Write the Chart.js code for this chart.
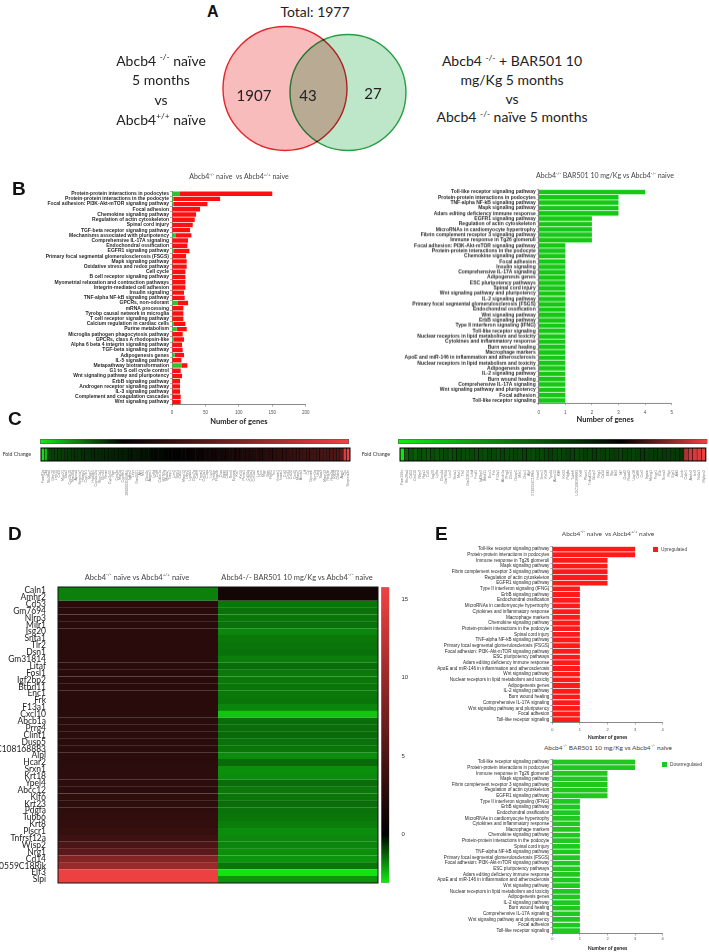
<!DOCTYPE html>
<html lang="en">
<head>
<meta charset="UTF-8">
<title>Abcb4 BAR501 transcriptome</title>
<script src="https://cdn.jsdelivr.net/npm/chart.js"></script>
<style>
  body { margin: 0; background: #fff; }
  #fig { position: relative; width: 709px; height: 952px; overflow: hidden; font-family: Lato, "Open Sans", sans-serif; color: #222; }
  .t { position: absolute; z-index: 5; white-space: nowrap; transform: translate(-50%, -50%); text-align: center; }
  .letter { position: absolute; z-index: 5; font-family: "Liberation Sans", Arial, sans-serif; font-weight: bold; font-size: 19px; color: #111; line-height: 1; }
  .venn { font-size: 14px; color: #222; }
  .hd { font-size: 7px; color: #444; }
  .lg { position: absolute; z-index: 5; font-family: "Liberation Sans", Arial, sans-serif; font-size: 4.8px; color: #444; white-space: nowrap; line-height: 1; }
  .lg i { display: inline-block; width: 5px; height: 4.5px; margin-right: 3px; vertical-align: -0.5px; }
  sup { font-size: 60%; vertical-align: 0.7em; line-height: 0; }
</style>
</head>
<body>
<div id="fig">
  <div class="letter" style="left:207px;top:4px;font-size:16px">A</div>
  <div class="t venn" style="left:315px;top:11px">Total: <span id="vTotal"></span></div>
  <div class="t venn" style="left:161px;top:89.5px;line-height:19.7px">Abcb4 <sup>-/-</sup> naïve<br>5 months<br>vs<br>Abcb4<sup>+/+</sup> naïve</div>
  <div class="t venn" style="left:512px;top:90px;line-height:18.8px">Abcb4 <sup>-/-</sup> + BAR501 10<br>mg/Kg 5 months<br>vs<br>Abcb4 <sup>-/-</sup> naïve 5 months</div>
  <div class="t venn" id="v0" style="left:254px;top:95px;font-size:15px"></div>
  <div class="t venn" id="v1" style="left:308px;top:95px;font-size:15px"></div>
  <div class="t venn" id="v2" style="left:373px;top:93px;font-size:15px"></div>

  <div class="letter" style="left:12px;top:179px">B</div>
  <div class="t hd" style="left:239px;top:176px">Abcb4<sup>-/-</sup> naive&nbsp; vs Abcb4<sup>+/+</sup> naive</div>
  <div class="t hd" style="left:605px;top:175px">Abcb4<sup>-/-</sup> BAR501 10 mg/Kg vs Abcb4<sup>-/-</sup> naive</div>

  <div class="letter" style="left:8px;top:409px">C</div>

  <div class="letter" style="left:8px;top:524px">D</div>
  <div class="t hd" style="left:137px;top:577px;font-size:7.5px">Abcb4<sup>-/-</sup> naïve vs Abcb4<sup>+/+</sup> naïve</div>
  <div class="t hd" style="left:297px;top:577px;font-size:7.5px">Abcb4-/- BAR501 10 mg/Kg vs Abcb4<sup>-/-</sup> naïve</div>

  <div class="letter" style="left:435px;top:524px">E</div>
  <div class="t hd" style="left:608px;top:533px;font-size:6.5px">Abcb4<sup>-/-</sup> naive&nbsp; vs Abcb4<sup>+/+</sup> naive</div>
  <div class="t hd" style="left:608px;top:747px;font-size:6.5px">Abcb4<sup>-/-</sup> BAR501 10 mg/Kg vs Abcb4<sup>-/-</sup> naive</div>
  <div class="lg" style="left:653px;top:547px"><i style="background:#ff1a1a"></i>Upregulated</div>
  <div class="lg" style="left:662px;top:762px"><i style="background:#1ec81e"></i>Downregulated</div>
</div>

<script>
// Venn counts
const vennSets = ['Abcb4-/- naïve vs Abcb4+/+ naïve', 'Abcb4-/- + BAR501 vs Abcb4-/- naïve'];
const vennCounts = [1907, 43, 27];
const vennTotal = 1977;

// B left: pathways, naive vs WT
const bLeftPathways = [
  'Protein-protein interactions in podocytes', 'Protein-protein interactions in the podocyte',
  'Focal adhesion: PI3K-Akt-mTOR signaling pathway', 'Focal adhesion', 'Chemokine signaling pathway',
  'Regulation of actin cytoskeleton', 'Spinal cord injury', 'TGF-beta receptor signaling pathway',
  'Mechanisms associated with pluripotency', 'Comprehensive IL-17A signaling',
  'Endochondral ossification', 'EGFR1 signaling pathway',
  'Primary focal segmental glomerulosclerosis (FSGS)', 'Mapk signaling pathway',
  'Oxidative stress and redox pathway', 'Cell cycle', 'B cell receptor signaling pathway',
  'Myometrial relaxation and contraction pathways', 'Integrin-mediated cell adhesion',
  'Insulin signaling', 'TNF-alpha NF-kB signaling pathway', 'GPCRs, non-odorant',
  'mRNA processing', 'Tyrobp causal network in microglia', 'T cell receptor signaling pathway',
  'Calcium regulation in cardiac cells', 'Purine metabolism',
  'Microglia pathogen phagocytosis pathway', 'GPCRs, class A rhodopsin-like',
  'Alpha 6 beta 4 integrin signaling pathway', 'TGF-beta signaling pathway',
  'Adipogenesis genes', 'IL-5 signaling pathway', 'Metapathway biotransformation',
  'G1 to S cell cycle control', 'Wnt signaling pathway and pluripotency',
  'ErbB signaling pathway', 'Androgen receptor signaling pathway', 'IL-3 signaling pathway',
  'Complement and coagulation cascades', 'Wnt signaling pathway'
];
const bLeftDown = [12, 3, 3, 0, 0, 0, 0, 0, 5, 0,  0, 3, 0, 0, 0, 0, 0, 0, 0, 0,
                   0, 8, 0, 0, 0, 3, 7, 0, 2, 0,  0, 4, 0, 14, 0, 0, 0, 0, 0, 0,  0];
const bLeftUp = [138, 69, 50, 42, 36, 34, 31, 27, 24, 24,  23, 23, 21, 22, 22, 20, 20, 20, 20, 18,
                 19, 16, 17, 17, 17, 17, 15, 16, 16, 15,  16, 14, 14, 9, 13, 15, 12, 12, 12, 13,  13];
const bLeftTicks = [0, 50, 100, 150, 200];

// B right: pathways, BAR501 vs naive
const bRightPathways = [
  'Toll-like receptor signaling pathway', 'Protein-protein interactions in podocytes',
  'TNF-alpha NF-kB signaling pathway', 'Mapk signaling pathway',
  'Adars editing deficiency immune response', 'EGFR1 signaling pathway',
  'Regulation of actin cytoskeleton', 'MicroRNAs in cardiomyocyte hypertrophy',
  'Fibrin complement receptor 3 signaling pathway', 'Immune response in Tg26 glomeruli',
  'Focal adhesion: PI3K-Akt-mTOR signaling pathway', 'Protein-protein interactions in the podocyte',
  'Chemokine signaling pathway', 'Focal adhesion', 'Insulin signaling',
  'Comprehensive IL-17A signaling', 'Adipogenesis genes', 'ESC pluripotency pathways',
  'Spinal cord injury', 'Wnt signaling pathway and pluripotency', 'IL-2 signaling pathway',
  'Primary focal segmental glomerulosclerosis (FSGS)', 'Endochondral ossification',
  'Wnt signaling pathway', 'ErbB signaling pathway', 'Type II interferon signaling (IFNG)',
  'Toll-like receptor signaling', 'Nuclear receptors in lipid metabolism and toxicity',
  'Cytokines and inflammatory response', 'Burn wound healing', 'Macrophage markers',
  'ApoE and miR-146 in inflammation and atherosclerosis',
  'Nuclear receptors in lipid metabolism and toxicity', 'Adipogenesis genes',
  'IL-2 signaling pathway', 'Burn wound healing', 'Comprehensive IL-17A signaling',
  'Wnt signaling pathway and pluripotency', 'Focal adhesion', 'Toll-like receptor signaling'
];
const bRightDown = [4, 3, 3, 3, 3, 2, 2, 2, 2, 2,  1, 1, 1, 1, 1, 1, 1, 1, 1, 1,
                    1, 1, 1, 1, 1, 1, 1, 1, 1, 1,  1, 1, 1, 1, 1, 1, 1, 1, 1, 1];
const bRightTicks = [0, 1, 2, 3, 4, 5];

// C: fold change strips
const cLeftGenes = [
  'Fam81a', 'Cfd', 'Slc38a4', 'Gbp10', 'Lrrc15', 'Cd5l', 'Mup21', 'Saa2', 'Cyp2b10', 'Trim30d',
  'Apoa4', 'Serpina7', 'Hamp2', 'Cyp7b1', 'Mup7', 'Hsd3b5', 'Cyp4a12a', 'Slco1a1', 'Elovl3', 'Nnmt',
  'Cyp2c55', 'Rgn', 'Ces3a', 'Mat1a', 'Cyp8b1', '1600002D24Rik', 'Igfbp2', 'Lepr', 'Gm4951', 'Ahr',
  'Mt1', 'Clec4n', 'Adgre1', 'Ly6d', 'Ccl8', 'Cdkn1a', 'Ifi27l2a', 'Ms4a7', 'Timp1', 'Lcn2',
  'Spp1', 'Cd52', 'Mmp12', 'Ltbp2', 'Lgals3', 'Clec7a', 'Cd68', 'Trem2', 'Col1a1', 'C1qa',
  'Lyz2', 'Tyrobp', 'Fcgr2b', 'Ctss', 'Itgax', 'Cd44', 'Sox9', 'Epcam', 'Krt7', 'Krt19',
  'Prom1', 'Cd24a', 'Col3a1', 'Col1a2', 'Lum', 'Dcn', 'Mgp', 'Bgn', 'Fbln2', 'Tnc',
  'Vcam1', 'Icam1', 'Ccl2', 'Cxcl1', 'Ccl20', 'Cxcl5', 'Mmp7', 'Anxa3', 'Ltf', 'Cp',
  'Gpnmb', 'Sprr1a', 'Ubd', 'Saa3', 'Mmp13', 'Reg3b', 'Reg3g', 'Krt20', 'Cldn4', 'Aqp5',
  'Clu', 'Serpina3n'
];
const cLeftFold = [
  -47, -40, -15, -14, -14, -13, -13, -12, -12, -11,
  -11, -11, -10, -10, -9.5, -9, -9, -8.5, -8, -8,
  -7.5, -7, -7, -6.5, -6, -6, -5.5, -5, -5, -4.5,
  -4, -3.5, -3, -2.5, -2, -1.8, -1.2, -0.8, 0.3, 1,
  1.8, 2.5, 3, 3.8, 4.6, 5.2, 6, 6.8, 7.5, 8.3,
  9, 9.8, 10.5, 11.3, 12, 12.8, 13.6, 14.5, 15.2, 16,
  17, 17.8, 18.6, 19.5, 20.4, 21.2, 22, 23, 24, 25,
  26, 27, 28, 29, 30, 31, 32.5, 33.5, 34.5, 35.5,
  36.5, 37.5, 38.5, 40, 41, 42, 43.5, 45, 47, 50,
  126, 136
];
const cLeftScale = [-50, 138];
const cLeftTicks = [0, 50, 100];

const cRightGenes = [
  'Fam199x', 'Slc26a4', 'Cd53', 'Cxcl10', 'Nlrp3', 'Rgs1', 'Ccl5', 'Isg20', 'Ly6a', 'Clec4d',
  'Gm7694', 'Lcn2', 'Snta1', 'Msr1', 'Tlr2', 'Gm31814', 'Litaf', 'Fosl1', 'Igf2bp2', 'Btbd11',
  'Enc1', 'Frk', 'F13a1', 'Abcb1a', 'Prrg4', 'Clint1', 'Dusp5', 'Milr1', 'Dsn1', 'Alpl',
  '5730559C18Rik', 'Hcar2', 'Srxn1', 'Krt18', 'Ypel4', 'Abcc12', 'Klf6', 'Krt23', 'Pdgfa', 'Tubb6',
  'LOC108168883', 'Krt8', 'Plscr1', 'Tnfrsf12a', 'Wisp2', 'Nrg1', 'Cd14', 'Elf3', 'Slpi', 'Ifit3',
  'Irf7', 'Oasl2', 'Rsad2', 'Usp18', 'Cd86', 'Ccr2', 'Itgam', 'Mpeg1', 'Fcgr1', 'Il1b',
  'Socs3', 'Myc', 'Egr1', 'Atf3', 'Junb', 'Caln1', 'Amhr2', 'Ier3', 'Nr4a1', 'Mybpc2'
];
const cRightFold = [
  -4.4, -1.9, -1.6, -1.8, -1.5, -1.6, -1.7, -1.5, -1.6, -1.5,
  -1.4, -1.6, -1.5, -1.4, -1.5, -1.5, -1.4, -1.5, -1.4, -1.5,
  -1.3, -1.4, -1.5, -1.3, -1.4, -1.4, -1.3, -1.4, -1.3, -1.4,
  -1.5, -1.3, -1.4, -1.3, -1.2, -1.3, -1.4, -1.3, -1.2, -1.3,
  -1.4, -1.3, -1.2, -1.3, -1.2, -1.3, -1.2, -1.3, -1.2, -1.2,
  -1.3, -1.2, -1.2, -1.3, -1.2, -1.1, -1.2, -1.2, -1.1, -1.2,
  -1.1, -1.2, -1.1, -1.1, -1.0, 1.3, 1.5, 1.55, 1.6, 1.7
];
const cRightScale = [-4.57, 1.75];
const cRightTicks = [-4, -2, 0];

// D: 43 shared genes
const dGenes = ['Caln1', 'Amhr2', 'Cd53', 'Gm7694', 'Nlrp3', 'Milr1', 'Isg20', 'Snta1', 'Tlr2', 'Dsn1',
  'Gm31814', 'Litaf', 'Fosl1', 'Igf2bp2', 'Btbd11', 'Enc1', 'Frk', 'F13a1', 'Cxcl10', 'Abcb1a',
  'Prrg4', 'Clint1', 'Dusp5', 'LOC108168883', 'Alpl', 'Hcar2', 'Srxn1', 'Krt18', 'Ypel4', 'Abcc12',
  'Klf6', 'Krt23', 'Pdgfa', 'Tubb6', 'Krt8', 'Plscr1', 'Tnfrsf12a', 'Wisp2', 'Nrg1', 'Cd14',
  '5730559C18Rik', 'Elf3', 'Slpi'];
const dNaiveVsWt = [-1.7, -1.7, 2.7, 2.7, 2.7, 2.7, 2.7, 2.7, 2.7, 2.7,
  2.7, 2.7, 2.7, 2.7, 2.7, 2.7, 2.7, 2.7, 2.7, 2.8,
  2.8, 2.8, 2.8, 2.8, 2.8, 2.8, 2.9, 2.9, 2.9, 2.9,
  3.0, 3.0, 3.1, 3.2, 3.3, 3.5, 4.0, 5.0, 6.0, 8.5,
  10, 15.5, 15.5];
const dBarVsNaive = [1.4, 1.4, -1.55, -1.5, -1.55, -1.5, -1.75, -1.6, -1.55, -1.5,
  -1.65, -1.45, -1.6, -1.6, -1.55, -1.6, -1.55, -1.75, -2.6, -1.45,
  -1.45, -1.4, -1.5, -1.55, -1.85, -1.4, -1.9, -1.85, -1.45, -1.6,
  -1.55, -1.45, -1.5, -1.55, -1.65, -1.85, -1.8, -1.75, -1.9, -1.95,
  -1.55, -3.0, -1.95];
const dScale = [-3.1, 15.8];
const dTicks = [0, 5, 10, 15];

// E: pathways of the 43 shared genes
const ePathways = [
  'Toll-like receptor signaling pathway', 'Protein-protein interactions in podocytes',
  'Immune response in Tg26 glomeruli', 'Mapk signaling pathway',
  'Fibrin complement receptor 3 signaling pathway', 'Regulation of actin cytoskeleton',
  'EGFR1 signaling pathway', 'Type II interferon signaling (IFNG)', 'ErbB signaling pathway',
  'Endochondral ossification', 'MicroRNAs in cardiomyocyte hypertrophy',
  'Cytokines and inflammatory response', 'Macrophage markers', 'Chemokine signaling pathway',
  'Protein-protein interactions in the podocyte', 'Spinal cord injury',
  'TNF-alpha NF-kB signaling pathway', 'Primary focal segmental glomerulosclerosis (FSGS)',
  'Focal adhesion: PI3K-Akt-mTOR signaling pathway', 'ESC pluripotency pathways',
  'Adars editing deficiency immune response', 'ApoE and miR-146 in inflammation and atherosclerosis',
  'Wnt signaling pathway', 'Nuclear receptors in lipid metabolism and toxicity',
  'Adipogenesis genes', 'IL-2 signaling pathway', 'Burn wound healing',
  'Comprehensive IL-17A signaling', 'Wnt signaling pathway and pluripotency', 'Focal adhesion',
  'Toll-like receptor signaling'
];
const eUp = [3, 3, 2, 2, 2, 2, 2, 1, 1, 1,  1, 1, 1, 1, 1, 1, 1, 1, 1, 1,  1, 1, 1, 1, 1, 1, 1, 1, 1, 1,  1];
const eDown = [3, 3, 2, 2, 2, 2, 2, 1, 1, 1,  1, 1, 1, 1, 1, 1, 1, 1, 1, 1,  1, 1, 1, 1, 1, 1, 1, 1, 1, 1,  1];
const eTicks = [0, 1, 2, 3, 4];

// ---- colour ramps (style) ----
const GREEN = [20, 235, 20], BLACK = [0, 0, 0], RED = [242, 66, 66];
function ramp(min, max) { return [[min, GREEN], [0, BLACK], [max, RED]]; }
function rampColor(stops, v) {
  const c = (a) => `rgb(${a.map(Math.round).join(',')})`;
  if (v <= stops[0][0]) return c(stops[0][1]);
  for (let i = 1; i < stops.length; i++) {
    if (v <= stops[i][0]) {
      const [v0, c0] = stops[i - 1], [v1, c1] = stops[i];
      const t = (v - v0) / (v1 - v0);
      return c(c0.map((x, k) => x + (c1[k] - x) * t));
    }
  }
  return c(stops[stops.length - 1][1]);
}

Chart.defaults.animation = false;
Chart.defaults.responsive = false;
Chart.defaults.devicePixelRatio = 1;
Chart.defaults.font.family = '"Liberation Sans", Arial, sans-serif';
Chart.defaults.plugins.legend.display = false;
Chart.defaults.plugins.tooltip.enabled = false;

const fig = document.getElementById('fig');
function place(box) {
  const d = document.createElement('div');
  d.style.cssText = `position:absolute;left:${box.l}px;top:${box.t}px;width:${box.w}px;height:${box.h}px`;
  const c = document.createElement('canvas');
  c.width = box.w; c.height = box.h;
  c.style.width = box.w + 'px'; c.style.height = box.h + 'px';
  d.appendChild(c);
  fig.appendChild(d);
  return c;
}
const fixTicks = (vals) => (s) => { s.ticks = vals.map(v => ({ value: v })); };

const framePlugin = {
  id: 'frame',
  afterDatasetsDraw(chart, args, opts) {
    const { ctx, chartArea: a } = chart;
    ctx.save();
    ctx.strokeStyle = opts.color || '#000';
    ctx.lineWidth = opts.width || 1;
    ctx.strokeRect(a.left, a.top, a.right - a.left, a.bottom - a.top);
    ctx.restore();
  }
};

// ---- A: Venn ----
document.getElementById('vTotal').textContent = vennTotal;
vennCounts.forEach((n, i) => { document.getElementById('v' + i).textContent = n; });

const multiplyPlugin = {
  id: 'multiply',
  beforeDatasetDraw(chart, args) { if (args.index === 1) { chart.ctx.save(); chart.ctx.globalCompositeOperation = 'multiply'; } },
  afterDatasetDraw(chart, args) { if (args.index === 1) chart.ctx.restore(); }
};
new Chart(place({ l: 200, t: 20, w: 230, h: 140 }), {
  type: 'bubble',
  data: {
    datasets: [
      { label: vennSets[0], data: [{ x: 0, y: 0 }], radius: 62, clip: false, backgroundColor: '#f8bcbc', borderColor: '#e3262b', borderWidth: 1.4, order: 2 },
      { label: vennSets[1], data: [{ x: 1, y: 1 }], radius: 58, clip: false, backgroundColor: '#bee7c9', borderColor: '#2aa54b', borderWidth: 1.4, order: 1 }
    ]
  },
  options: {
    layout: { padding: 0, autoPadding: false },
    scales: {
      x: { display: false, min: -1.349, max: 2.302 },
      y: { display: false, reverse: true, min: -17.125, max: 17.875 }
    }
  },
  plugins: [multiplyPlugin]
});

// ---- horizontal pathway bar charts ----
function pathwayChart(box, area, cfg) {
  const axisGrid = { drawOnChartArea: false, tickLength: 2, color: '#777', lineWidth: 0.6 };
  const axisBorder = { color: '#555', width: 0.7 };
  return new Chart(place(box), {
    type: 'bar',
    data: {
      labels: cfg.labels,
      datasets: cfg.datasets.map(ds => Object.assign({ barPercentage: 0.85, categoryPercentage: 1, stack: 's' }, ds))
    },
    options: {
      indexAxis: 'y',
      layout: { padding: { top: area.t - box.t, right: box.l + box.w - area.r, left: 0, bottom: 0 } },
      scales: {
        y: {
          stacked: true,
          afterFit: s => { s.width = area.l - box.l; },
          grid: axisGrid, border: axisBorder,
          ticks: { autoSkip: false, padding: 1, color: '#2a2a2a', font: cfg.labelFont }
        },
        x: {
          stacked: true, min: 0, max: cfg.ticks[cfg.ticks.length - 1],
          afterBuildTicks: fixTicks(cfg.ticks),
          afterFit: s => { s.height = box.t + box.h - area.b; },
          grid: axisGrid, border: axisBorder,
          ticks: { padding: cfg.tickPad, color: '#555', font: { size: cfg.tickSize } },
          title: { display: true, text: 'Number of genes', padding: { top: 0, bottom: 0 }, color: '#222',
                   font: { family: 'Lato', size: cfg.titleSize, weight: 'bold' } }
        }
      }
    }
  });
}

const bFont = { size: 5, weight: 'bold' };
pathwayChart({ l: 0, t: 183, w: 320, h: 243 }, { l: 172, t: 191.1, r: 305.7, b: 404.6 }, {
  labels: bLeftPathways,
  datasets: [
    { label: 'Downregulated', data: bLeftDown, backgroundColor: '#2fc42f' },
    { label: 'Upregulated', data: bLeftUp, backgroundColor: '#ff1010' }
  ],
  ticks: bLeftTicks, labelFont: bFont, tickSize: 4.5, tickPad: 3, titleSize: 7.5
});
pathwayChart({ l: 350, t: 182, w: 345, h: 241.5 }, { l: 538.7, t: 189.3, r: 671.7, b: 402.7 }, {
  labels: bRightPathways,
  datasets: [{ label: 'Downregulated', data: bRightDown, backgroundColor: '#14c814' }],
  ticks: bRightTicks, labelFont: bFont, tickSize: 4.5, tickPad: 4.5, titleSize: 7.5
});

const eFont = { size: 4.6 };
pathwayChart({ l: 420, t: 540, w: 289, h: 200 }, { l: 552.3, t: 546.2, r: 662.7, b: 722.5 }, {
  labels: ePathways,
  datasets: [{ label: 'Upregulated', data: eUp, backgroundColor: '#ff1a1a' }],
  ticks: eTicks, labelFont: eFont, tickSize: 4, tickPad: 3, titleSize: 5.2
});
pathwayChart({ l: 420, t: 752, w: 289, h: 199 }, { l: 552.3, t: 759.2, r: 662.7, b: 933.5 }, {
  labels: ePathways,
  datasets: [{ label: 'Downregulated', data: eDown, backgroundColor: '#1ec81e' }],
  ticks: eTicks, labelFont: eFont, tickSize: 4, tickPad: 1, titleSize: 5.2
});

// ---- C: colour bars and fold-change strips ----
function colorBarH(box, area, scale, ticks) {
  const stops = ramp(scale[0], scale[1]);
  return new Chart(place(box), {
    type: 'bar',
    data: {
      labels: ['Fold Change'],
      datasets: [{
        data: [scale],
        barPercentage: 1, categoryPercentage: 1, borderSkipped: false,
        borderColor: '#555', borderWidth: 0.8,
        backgroundColor: (ctx) => {
          const ch = ctx.chart, x = ch.scales.x;
          if (!ch.chartArea || !x) return '#000';
          const g = ch.ctx.createLinearGradient(x.getPixelForValue(scale[0]), 0, x.getPixelForValue(scale[1]), 0);
          stops.forEach(([v, c]) => g.addColorStop((v - scale[0]) / (scale[1] - scale[0]), `rgb(${c.join(',')})`));
          return g;
        }
      }]
    },
    options: {
      indexAxis: 'y',
      layout: { padding: { left: area.l - box.l, right: box.l + box.w - area.r, bottom: box.t + box.h - area.b, top: 0 } },
      scales: {
        y: { display: false },
        x: {
          position: 'top', min: scale[0], max: scale[1],
          afterBuildTicks: fixTicks(ticks),
          afterFit: s => { s.height = area.t - box.t; },
          grid: { display: false }, border: { display: false },
          ticks: { padding: 3, color: '#333', font: { size: 5.5 } }
        }
      }
    }
  });
}

function foldStrip(box, area, genes, fold, scale) {
  const stops = ramp(scale[0], scale[1]);
  return new Chart(place(box), {
    type: 'bar',
    data: {
      labels: genes,
      datasets: [{
        data: genes.map(() => 1),
        backgroundColor: fold.map(v => rampColor(stops, v)),
        borderColor: '#050505', borderWidth: 0.5, borderSkipped: false,
        barPercentage: 1, categoryPercentage: 1
      }]
    },
    options: {
      layout: { padding: { top: area.t - box.t, right: box.l + box.w - area.r, left: 0, bottom: 0 } },
      scales: {
        x: {
          afterFit: s => { s.height = box.t + box.h - area.b; },
          grid: { display: false }, border: { display: false },
          ticks: { autoSkip: false, maxRotation: 90, minRotation: 90, padding: 1, color: '#777', font: { size: 3.6 } }
        },
        y: {
          min: 0, max: 1,
          afterBuildTicks: fixTicks([0.5]),
          afterFit: s => { s.width = area.l - box.l; },
          grid: { display: false }, border: { display: false },
          ticks: { padding: 2, color: '#333', font: { family: 'Lato', size: 5.2 }, callback: () => 'Fold Change' }
        }
      },
      plugins: { frame: { color: '#000', width: 1 } }
    },
    plugins: [framePlugin]
  });
}

colorBarH({ l: 0, t: 426, w: 360, h: 20 }, { l: 40, t: 439, r: 349, b: 444 }, cLeftScale, cLeftTicks);
colorBarH({ l: 360, t: 426, w: 349, h: 20 }, { l: 398, t: 439, r: 707.5, b: 444 }, cRightScale, cRightTicks);
foldStrip({ l: 0, t: 438, w: 360, h: 80 }, { l: 41, t: 448, r: 350, b: 461 }, cLeftGenes, cLeftFold, cLeftScale);
foldStrip({ l: 360, t: 438, w: 349, h: 80 }, { l: 400, t: 448, r: 707, b: 461 }, cRightGenes, cRightFold, cRightScale);

// ---- D: heatmap of shared genes ----
const dStops = ramp(dScale[0], dScale[1]);
new Chart(place({ l: 0, t: 575, w: 400, h: 320 }), {
  type: 'bar',
  data: {
    labels: dGenes,
    datasets: [dNaiveVsWt, dBarVsNaive].map((vals, i) => ({
      label: i === 0 ? 'naive vs WT' : 'BAR501 vs naive',
      data: dGenes.map(() => 1),
      backgroundColor: vals.map(v => rampColor(dStops, v)),
      borderWidth: 0, barPercentage: 1.02, categoryPercentage: 1, stack: 'h'
    }))
  },
  options: {
    indexAxis: 'y',
    layout: { padding: { top: 12, right: 22, bottom: 12, left: 0 } },
    scales: {
      x: { display: false, stacked: true, min: 0, max: 2 },
      y: {
        stacked: true,
        afterFit: s => { s.width = 58; },
        grid: { display: false }, border: { display: false },
        ticks: { autoSkip: false, padding: 4, color: '#222', font: { family: 'Lato', size: 8.5, lineHeight: 1 } }
      }
    },
    plugins: { frame: { color: '#111', width: 1 } }
  },
  plugins: [framePlugin]
});

new Chart(place({ l: 379, t: 575, w: 30, h: 320 }), {
  type: 'bar',
  data: {
    labels: ['scale'],
    datasets: [{
      data: [dScale],
      barPercentage: 1, categoryPercentage: 1, borderSkipped: false,
      borderColor: '#999', borderWidth: 0.8,
      backgroundColor: (ctx) => {
        const ch = ctx.chart, y = ch.scales.y;
        if (!ch.chartArea || !y) return '#000';
        const g = ch.ctx.createLinearGradient(0, y.getPixelForValue(dScale[0]), 0, y.getPixelForValue(dScale[1]));
        dStops.forEach(([v, c]) => g.addColorStop((v - dScale[0]) / (dScale[1] - dScale[0]), `rgb(${c.join(',')})`));
        return g;
      }
    }]
  },
  options: {
    layout: { padding: { left: 2, top: 12, bottom: 12, right: 0 } },
    scales: {
      x: { display: false },
      y: {
        position: 'right', min: dScale[0], max: dScale[1],
        afterBuildTicks: fixTicks(dTicks),
        afterFit: s => { s.width = 19.5; },
        grid: { display: false }, border: { display: false },
        ticks: { padding: 4, color: '#333', font: { size: 6 } }
      }
    }
  }
});
</script>
</body>
</html>
